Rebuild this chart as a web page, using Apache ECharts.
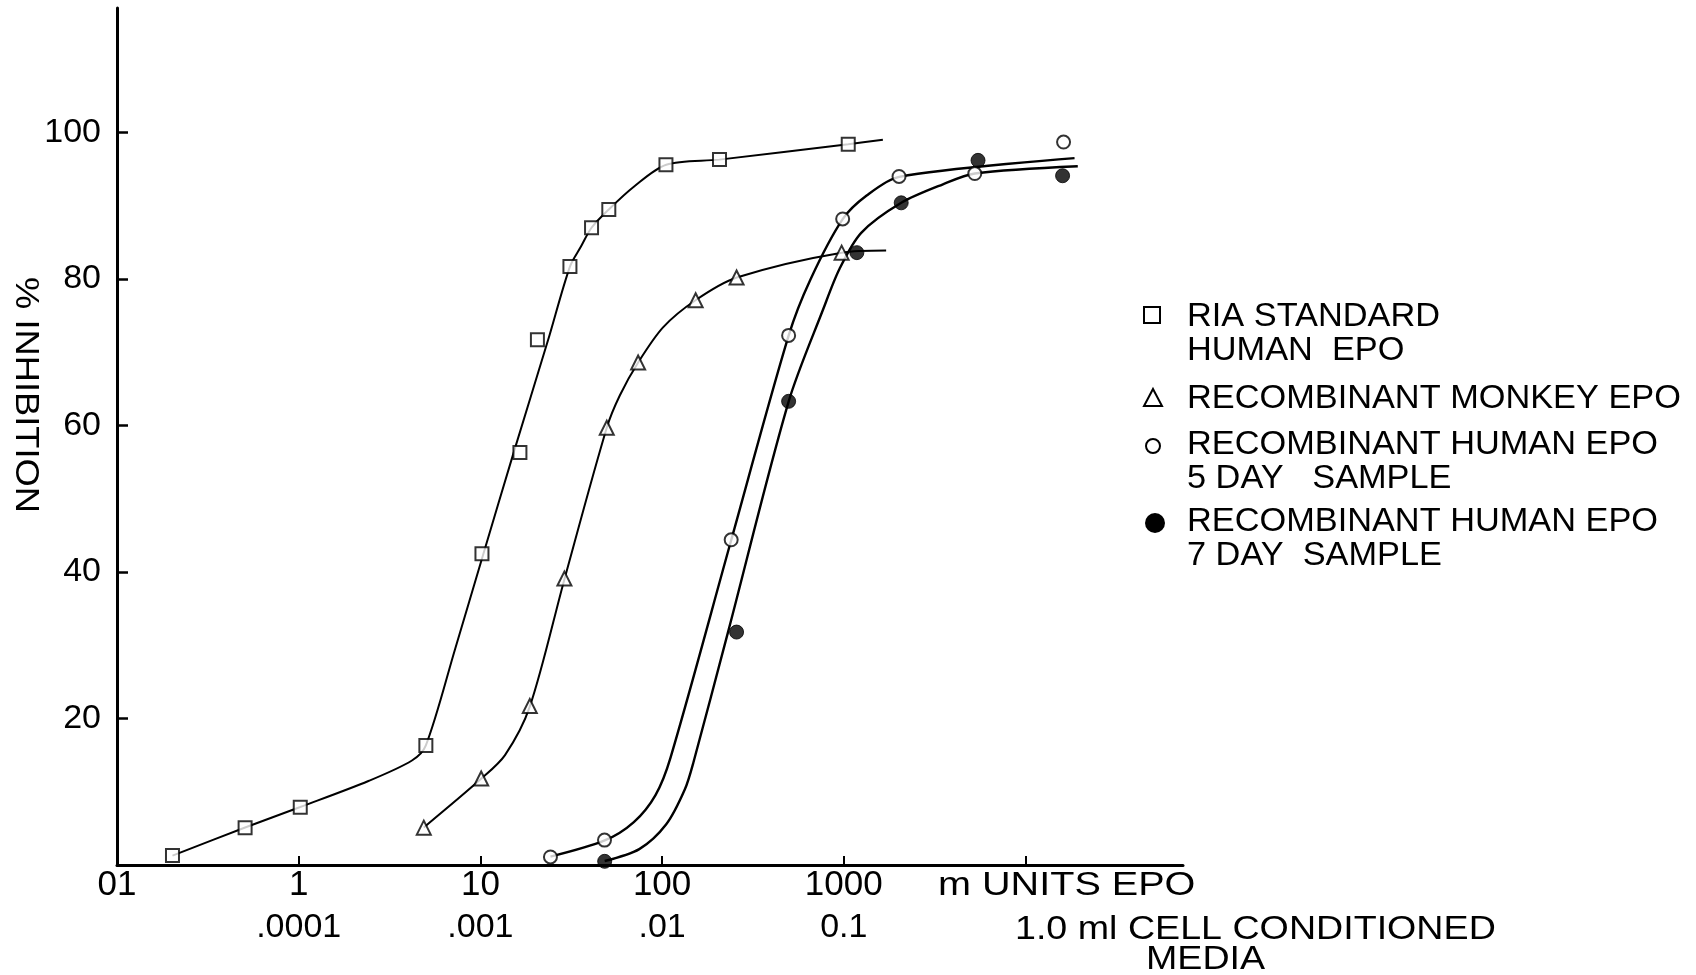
<!DOCTYPE html>
<html><head><meta charset="utf-8">
<script src="https://cdn.jsdelivr.net/npm/echarts@6.0.0/dist/echarts.min.js"></script>
<style>html,body{margin:0;padding:0;background:#fff}#c{width:1696px;height:975px}</style>
</head><body><div id="c"></div><script>
// ---- tick labels ----
const xTickValues = [1, 10, 100, 1000, 10000];
const xLabelValues = [0.1, 1, 10, 100, 1000];
const xLabels = ['01', '1', '10', '100', '1000'];
const xLabel2Values = [1, 10, 100, 1000];
const xLabels2 = ['.0001', '.001', '.01', '0.1'];
const yTickValues = [20, 40, 60, 80, 100];
const xUnitText = 'm UNITS EPO';
const xUnit2Text = '1.0 ml CELL CONDITIONED';
const xUnit3Text = 'MEDIA';
const yTitle = '% INHIBITION';

// ---- series names ----
const seriesNames = ['RIA STANDARD HUMAN EPO', 'RECOMBINANT MONKEY EPO', 'RECOMBINANT HUMAN EPO 5 DAY SAMPLE', 'RECOMBINANT HUMAN EPO 7 DAY SAMPLE'];
const legendLines = [['RIA STANDARD', 'HUMAN  EPO'], ['RECOMBINANT MONKEY EPO'], ['RECOMBINANT HUMAN EPO', '5 DAY   SAMPLE'], ['RECOMBINANT HUMAN EPO', '7 DAY  SAMPLE']];

// ---- measured points (m units EPO, % inhibition) ----
const riaX = [0.202, 0.507, 1.02, 5.01, 10.2, 16.5, 20.6, 31.1, 40.9, 50.9, 105, 207, 1058];
const riaY = [1.3, 5.1, 7.9, 16.3, 42.5, 56.3, 71.7, 81.7, 87.0, 89.5, 95.6, 96.3, 98.4];
const monkeyX = [4.88, 10.1, 18.7, 29.0, 49.6, 73.8, 153, 257, 973];
const monkeyY = [5.1, 11.8, 21.7, 39.1, 59.7, 68.6, 77.1, 80.2, 83.6];
const day5X = [24.3, 48.2, 240, 497, 986, 2014, 5260, 16200];
const day5Y = [1.1, 3.4, 44.4, 72.3, 88.2, 94.0, 94.4, 98.7];
const day7X = [48.3, 257, 497, 1180, 2070, 5480, 16000];
const day7Y = [0.5, 31.8, 63.3, 83.6, 90.4, 96.2, 94.1];

// ---- hand-drawn fitted curves ----
const riaCurveX = [0.202, 0.507, 1.02, 2.42, 4.20, 5.01, 7.26, 10.38, 15.24, 23.6, 31.1, 35.7, 40.9, 50.9, 69.9, 105.4, 206.6, 1058, 1641];
const riaCurveY = [1.28, 5.12, 7.92, 11.47, 14.27, 16.33, 29.5, 42.45, 56.3, 71.7, 81.7, 84.4, 87.0, 89.5, 92.6, 95.6, 96.3, 98.4, 99.0];
const monkeyCurveX = [4.88, 10.09, 13.66, 18.72, 29.04, 49.6, 58.5, 73.8, 101.2, 152.8, 257.5, 974, 1710];
const monkeyCurveY = [5.12, 11.76, 15.0, 21.65, 39.06, 59.7, 64.1, 68.6, 73.4, 77.1, 80.2, 83.6, 83.9];
const day5CurveX = [24.3, 48.3, 69.9, 92, 111.4, 240.4, 497.5, 654.5, 988, 1336, 2018, 18620];
const day5CurveY = [1.14, 3.35, 5.86, 9.55, 14.7, 44.4, 72.3, 79.9, 88.2, 91.4, 93.95, 96.5];
const day7CurveX = [48.3, 74.9, 105.4, 133.3, 148.7, 230.6, 497.5, 771, 948, 1247, 2072, 3490, 5270, 19400];
const day7CurveY = [0.55, 2.17, 5.56, 10.3, 14.0, 31.8, 63.3, 75.9, 81.4, 86.3, 90.4, 92.9, 94.4, 95.4];

const zip = (a, b) => a.map((v, i) => [v, b[i]]);
const FONT = "'Liberation Sans', Arial, sans-serif";
const FS = 33;
const BLACK = '#000';

function lookup(values, labels) {
  return function (v) {
    for (let i = 0; i < values.length; i++) {
      if (Math.abs(Math.log10(v) - Math.log10(values[i])) < 1e-4) return labels[i];
    }
    return '';
  };
}

const chart = echarts.init(document.getElementById('c'), null, { renderer: 'canvas' });

const xCommon = { type: 'log', logBase: 10, min: 0.1, max: 73600, splitLine: { show: false } };

const curveStyle = (w) => ({ type: 'line', showSymbol: false, symbol: 'none', smooth: 0.3, silent: true, lineStyle: { color: BLACK, width: w }, z: 2 });
const pointStyle = { type: 'scatter', z: 5 };

const option = {
  backgroundColor: '#fff',
  animation: false,
  grid: { left: 117, right: 513, top: 8, bottom: 110 },
  xAxis: [
    Object.assign({}, xCommon, {
      position: 'bottom',
      axisLine: { show: true, lineStyle: { color: BLACK, width: 3 } },
      axisTick: { show: true, inside: true, length: 9, lineStyle: { color: BLACK, width: 2 }, customValues: xTickValues },
      axisLabel: { customValues: xLabelValues, formatter: lookup(xLabelValues, xLabels), color: BLACK, fontFamily: FONT, fontSize: 35, margin: 3 }
    }),
    Object.assign({}, xCommon, {
      position: 'bottom',
      axisLine: { show: false },
      axisTick: { show: false },
      axisLabel: { customValues: xLabel2Values, formatter: lookup(xLabel2Values, xLabels2), color: BLACK, fontFamily: FONT, fontSize: 34, margin: 46 }
    })
  ],
  yAxis: {
    type: 'value', min: 0, max: 117,
    splitLine: { show: false },
    axisLine: { show: true, lineStyle: { color: BLACK, width: 3 } },
    axisTick: { show: true, inside: true, length: 11, lineStyle: { color: BLACK, width: 2.5 }, customValues: yTickValues },
    axisLabel: { customValues: yTickValues, color: BLACK, fontFamily: FONT, fontSize: 34, margin: 16 }
  },
  series: [
    Object.assign({ name: seriesNames[0] + ' fit', data: zip(riaCurveX, riaCurveY) }, curveStyle(2)),
    Object.assign({ name: seriesNames[1] + ' fit', data: zip(monkeyCurveX, monkeyCurveY) }, curveStyle(2)),
    Object.assign({ name: seriesNames[2] + ' fit', data: zip(day5CurveX, day5CurveY) }, curveStyle(2.4)),
    Object.assign({ name: seriesNames[3] + ' fit', data: zip(day7CurveX, day7CurveY) }, curveStyle(2.4)),
    Object.assign({ name: seriesNames[0], data: zip(riaX, riaY), symbol: 'rect', symbolSize: 13,
      itemStyle: { color: '#fff', borderColor: BLACK, borderWidth: 2 } }, pointStyle),
    Object.assign({ name: seriesNames[1], data: zip(monkeyX, monkeyY), symbol: 'triangle', symbolSize: 14,
      itemStyle: { color: '#fff', borderColor: BLACK, borderWidth: 2 } }, pointStyle),
    Object.assign({ name: seriesNames[2], data: zip(day5X, day5Y), symbol: 'circle', symbolSize: 13,
      itemStyle: { color: '#fff', borderColor: BLACK, borderWidth: 2 } }, pointStyle),
    Object.assign({ name: seriesNames[3], data: zip(day7X, day7Y), symbol: 'circle', symbolSize: 14,
      itemStyle: { color: BLACK, borderColor: BLACK, borderWidth: 1 } }, pointStyle)
  ]
};
chart.setOption(option);

// ---- annotations and legend as graphic elements ----
const txt = (t, x, y, sx) => ({ type: 'text', x: x, y: y, scaleX: sx, style: { text: t, fill: BLACK, font: FS + 'px ' + FONT, align: 'left', verticalAlign: 'middle' } });
const g = [];
g.push(txt(xUnitText, 938, 886, 1.2));
g.push(txt(xUnit2Text, 1015, 930, 1.14));
g.push(txt(xUnit3Text, 1146, 960, 1.14));
g.push({ type: 'text', x: 25, y: 395, rotation: -Math.PI / 2, scaleX: 1.1,
  style: { text: yTitle, fill: BLACK, font: FS + 'px ' + FONT, align: 'center', verticalAlign: 'middle' } });

// legend
const legendTop = [317, 399, 445, 522];
const lineGap = 34;
const textX = 1187;
const mk = { stroke: BLACK, lineWidth: 2, fill: '#fff' };
g.push({ type: 'rect', shape: { x: 1144, y: 307, width: 16, height: 16 }, style: mk });
g.push({ type: 'polygon', shape: { points: [[1153, 389], [1162, 406], [1144, 406]] }, style: mk });
g.push({ type: 'circle', shape: { cx: 1153, cy: 446, r: 7 }, style: mk });
g.push({ type: 'circle', shape: { cx: 1155, cy: 523, r: 10 }, style: { fill: BLACK } });
legendLines.forEach((lines, i) => {
  lines.forEach((t, j) => g.push(txt(t, textX, legendTop[i] + j * lineGap, 1.04)));
});
chart.setOption({ graphic: g });
</script></body></html>
